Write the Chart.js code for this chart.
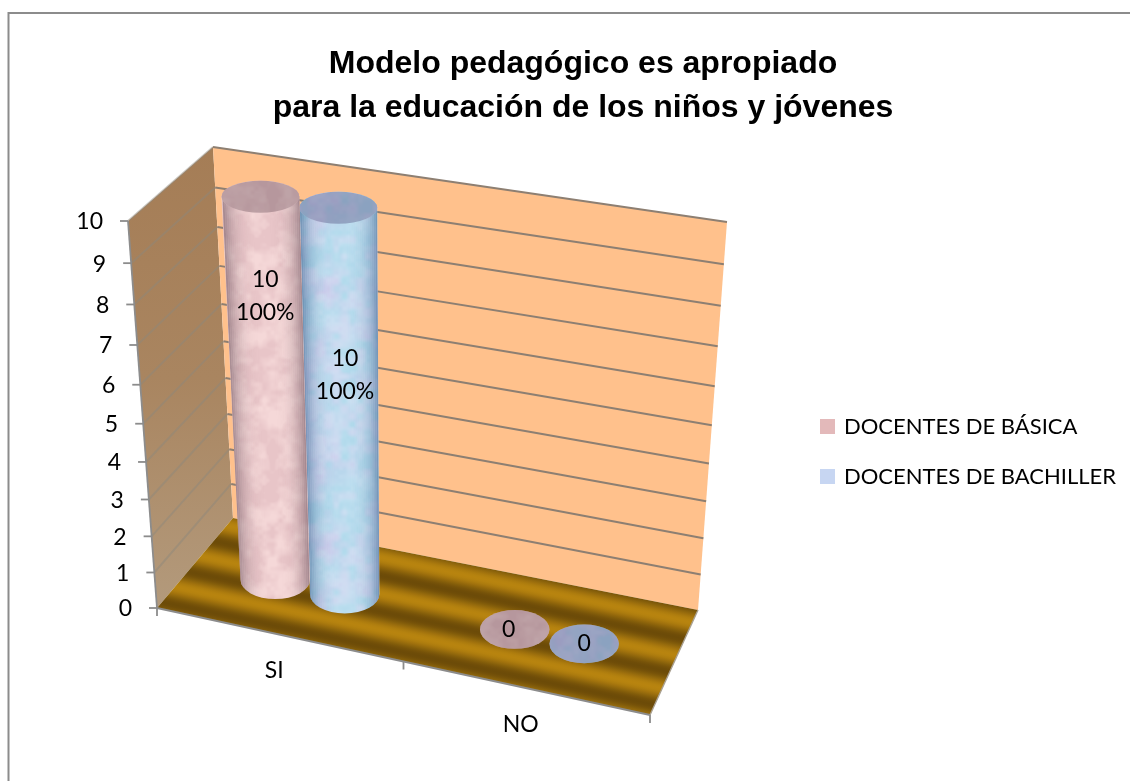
<!DOCTYPE html>
<html><head><meta charset="utf-8">
<style>html,body{margin:0;padding:0;background:#fff}canvas{display:block}</style>
<script src="https://cdn.jsdelivr.net/npm/chart.js@4"></script>
</head><body><canvas id="c" width="1130" height="781"></canvas>
<script>
// ---- data ----
const categories = ['SI', 'NO'];
const seriesNames = ['DOCENTES DE BÁSICA', 'DOCENTES DE BACHILLER'];
const basicaValues = [10, 0];
const bachillerValues = [10, 0];
const basicaLabels = [['10', '100%'], ['0']];
const bachillerLabels = [['10', '100%'], ['0']];
const titleLines = ['Modelo pedagógico es apropiado', 'para la educación de los niños y jóvenes'];

// ---- 3D box geometry (style only) ----
const BOX = {
  fBL:[157,608], fBR:[650,715], fTL:[128,221], fTR:[688,298],
  bBL:[233,518], bBR:[698,610], bTL:[213,147], bTR:[727,222]
};
const lerp=(a,b,t)=>a+(b-a)*t;
const lerp2=(p,q,t)=>[lerp(p[0],q[0],t),lerp(p[1],q[1],t)];
function proj(u,t,w){
  const f=lerp2(lerp2(BOX.fBL,BOX.fBR,u),lerp2(BOX.fTL,BOX.fTR,u),t);
  const b=lerp2(lerp2(BOX.bBL,BOX.bBR,u),lerp2(BOX.bTL,BOX.bTR,u),t);
  return lerp2(f,b,w);
}
const warp=d=>d/(d+1.1*(1-d));
const FONT='Lato, Carlito, sans-serif';
const TEXT=23;

class PerspectiveY extends Chart.LinearScale{
  getPixelForValue(v){
    if(v===null||v===undefined) return NaN;
    return this.getPixelForDecimal(warp((v-this.min)/(this.max-this.min)));
  }
  _computeLabelItems(area){
    const items=super._computeLabelItems(area);
    items.forEach((it,i)=>{
      const t=(this.bottom-this.getPixelForTick(i))/(this.bottom-this.top);
      const p=proj(0,t,0);
      it.options.translation=[p[0]-25,p[1]+1];
    });
    return items;
  }
}
PerspectiveY.id='perspectiveY';
PerspectiveY.defaults=Chart.LinearScale.defaults;

class PerspectiveX extends Chart.CategoryScale{
  _computeLabelItems(area){
    const items=super._computeLabelItems(area);
    items.forEach((it,i)=>{
      const u=(this.getPixelForTick(i)-this.left)/(this.right-this.left);
      const p=proj(u,0,0);
      it.options.translation=[p[0]-6,p[1]+36];
      it.options.textAlign='center';
      it.options.textBaseline='middle';
      it.textOffset=0;
    });
    return items;
  }
}
PerspectiveX.id='perspectiveX';
PerspectiveX.defaults=Chart.CategoryScale.defaults;
Chart.register(PerspectiveY,PerspectiveX);

// ---- mottled textures ----
function fract(x){return x-Math.floor(x)}
function vnoise(x,y,cell,S){
  const n=Math.round(S/cell),gx=x/cell,gy=y/cell,ix=Math.floor(gx),iy=Math.floor(gy);
  const h=(a,b)=>fract(Math.sin(((a+n)%n)*12.9898+((b+n)%n)*78.233+cell)*43758.5453);
  let fx=gx-ix,fy=gy-iy;fx=fx*fx*(3-2*fx);fy=fy*fy*(3-2*fy);
  return lerp(lerp(h(ix,iy),h(ix+1,iy),fx),lerp(h(ix,iy+1),h(ix+1,iy+1),fx),fy);
}
function texture(fn){
  const S=256,cv=document.createElement('canvas');cv.width=cv.height=S;
  const x=cv.getContext('2d'),im=x.createImageData(S,S);
  for(let j=0;j<S;j++)for(let i=0;i<S;i++){
    const a=vnoise(i,j,16,S)*.45+vnoise(i,j,8,S)*.35+vnoise(i,j,4,S)*.2;
    const b=vnoise(i,j,32,S)*.5+vnoise(i,j,8,S)*.5;
    const c=fn(a,b),k=(j*S+i)*4;
    im.data[k]=c[0];im.data[k+1]=c[1];im.data[k+2]=c[2];im.data[k+3]=255;
  }
  x.putImageData(im,0,0);return cv;
}
const clamp01=v=>Math.max(0,Math.min(1,v));
const pinkTex=texture((a,b)=>{const s=clamp01((a-.3)/.4);return [lerp(232,245,s),lerp(197,216,s),lerp(200,216,s)]});
const blueTex=texture((a,b)=>{const s=clamp01((a-.3)/.4),r=clamp01((b-.3)/.4);
  return [lerp(lerp(178,205,r),210,s*.6),lerp(lerp(218,205,r),230,s*.6),lerp(lerp(236,236,r),245,s*.6)]});
const STYLE=[
  {tex:pinkTex,edge:'120,95,105',cap:'rgba(95,70,80,.36)'},
  {tex:blueTex,edge:'70,105,150',cap:'rgba(85,85,130,.42)'}
];
const LABEL_T=[.74,.567];
const LABEL_DX=[[1,-6],[4,0]];
const labelsBySeries=[basicaLabels,bachillerLabels];

function toUT(chart,px,py){
  const a=chart.scales.x,b=chart.scales.y;
  return [(px-a.left)/(a.right-a.left)-.01,(b.bottom-py)/(b.bottom-b.top)];
}
function poly(ctx,pts){ctx.beginPath();pts.forEach((p,i)=>i?ctx.lineTo(p[0],p[1]):ctx.moveTo(p[0],p[1]));ctx.closePath();}
function line(ctx,a,b,col,w){ctx.strokeStyle=col;ctx.lineWidth=w;ctx.beginPath();ctx.moveTo(a[0],a[1]);ctx.lineTo(b[0],b[1]);ctx.stroke();}

const box3d={
  id:'box3d',
  afterLayout(chart){
    const l=chart.legend;
    l.top+=61;l.bottom+=61;
    l.left=821-27;l.right=1130;
    const t=chart.titleBlock;t.left+=18;t.right+=18;
  },
  beforeDraw(chart){
    const c=chart.ctx;
    line(c,[8,13],[1130,13],'#8c8c8c',2);
    line(c,[8.5,12],[8.5,781],'#8c8c8c',2);
  },
  beforeDatasetsDraw(chart){
    const c=chart.ctx,y=chart.scales.y;c.save();
    // left wall
    const tl=proj(0,1,0),bl=proj(0,0,0),tb=proj(0,1,1),bb=proj(0,0,1);
    poly(c,[tl,tb,bb,bl]);
    const g=c.createLinearGradient(0,147,0,608);g.addColorStop(0,'#a57d56');g.addColorStop(.5,'#a98560');g.addColorStop(1,'#b39a7c');
    c.fillStyle=g;c.fill();
    // back wall
    poly(c,[proj(0,1,1),proj(1,1,1),proj(1,0,1),proj(0,0,1)]);
    c.fillStyle='#ffc18c';c.fill();
    // floor stripes, running parallel to the front edge
    const fl=proj(0,0,0),fr=proj(1,0,0),slope=.208;
    const len=Math.hypot(1,slope),nx=slope/len,ny=-1/len;
    const P=36*(1/len),L=P*4;
    const fg=c.createLinearGradient(lerp(fl[0],fr[0],.5),lerp(fl[1],fr[1],.5),lerp(fl[0],fr[0],.5)+nx*L,lerp(fl[1],fr[1],.5)+ny*L);
    const S=64;
    for(let i=0;i<=S;i++){
      const s=.5+.5*Math.cos(2*Math.PI*(i/S*4-.75));
      const col=[lerp(108,184,s),lerp(75,132,s),lerp(8,15,s)].map(Math.round);
      fg.addColorStop(i/S,`rgb(${col})`);
    }
    poly(c,[proj(0,0,0),proj(1,0,0),proj(1,0,1),proj(0,0,1)]);
    c.fillStyle=fg;c.fill();
    // gridlines
    y.ticks.forEach((tk,i)=>{
      const t=(y.bottom-y.getPixelForTick(i))/(y.bottom-y.top);
      if(t>0){
        line(c,proj(0,t,0),proj(0,t,1),'rgba(140,135,125,.45)',2);
        line(c,proj(0,t,1),proj(1,t,1),'#8d7f72',2);
      }
      const p=proj(0,t,0);
      line(c,[p[0]-8,p[1]],p,'#8c8c8c',1.8);
    });
    // edges
    line(c,bl,tl,'#8c8c8c',1.8);
    line(c,proj(0,0,0),proj(1,0,0),'#8c8c8c',1.8);
    line(c,proj(1,0,0),proj(1,0,1),'#a9a090',1.4);
    [0,.5,1].forEach(u=>{const p=proj(u,0,0);line(c,p,[p[0],p[1]+8],'#8c8c8c',1.8);});
    c.restore();
  },
  beforeDatasetDraw(chart,args){
    const c=chart.ctx,st=STYLE[args.index];
    c.save();
    args.meta.data.forEach(el=>{
      const [u,tTop]=toUT(chart,el.x,el.y);
      const hw=el.width/(chart.scales.x.right-chart.scales.x.left)/2;
      const span=t=>proj(1,t,.5)[0]-proj(0,t,.5)[0];
      const ratio=t=>lerp(.56,.41,t);
      const bot=proj(u,0,.5),top=proj(u,tTop,.5);
      const rb=hw*span(0),rt=hw*span(tTop);
      const pat=c.createPattern(st.tex,'repeat');
      if(tTop<=0){
        c.beginPath();c.ellipse(bot[0],bot[1],rb,rb*ratio(0),0,0,Math.PI*2);
        c.fillStyle=pat;c.fill();c.fillStyle=st.cap;c.fill();
        return;
      }
      const ryB=rb*ratio(0),ryT=rt*ratio(tTop);
      c.save();
      c.beginPath();
      c.moveTo(top[0]-rt,top[1]);
      c.lineTo(bot[0]-rb,bot[1]);
      c.ellipse(bot[0],bot[1],rb,ryB,0,Math.PI,0,true);
      c.lineTo(top[0]+rt,top[1]);
      c.ellipse(top[0],top[1],rt,ryT,0,0,Math.PI,true);
      c.closePath();
      c.fillStyle=pat;c.fill();
      c.clip();
      // curvature shading in strips that follow the slanted silhouette
      const N=40,edge=s=>{const q=Math.min(s,1-s)*2;return .65*Math.pow(1-q,3.5);};
      for(let i=0;i<N;i++){
        const s0=i/N,s1=(i+1)/N,a=edge((s0+s1)/2);
        c.fillStyle=`rgba(${st.edge},${a.toFixed(3)})`;
        c.beginPath();
        c.moveTo(top[0]-rt+2*rt*s0,top[1]-ryT-2);
        c.lineTo(bot[0]-rb+2*rb*s0,bot[1]+ryB+2);
        c.lineTo(bot[0]-rb+2*rb*s1,bot[1]+ryB+2);
        c.lineTo(top[0]-rt+2*rt*s1,top[1]-ryT-2);
        c.closePath();c.fill();
      }
      c.restore();
      c.beginPath();c.ellipse(top[0],top[1],rt,ryT,0,0,Math.PI*2);
      c.fillStyle=pat;c.fill();c.fillStyle=st.cap;c.fill();
    });
    c.restore();
    return false;
  },
  afterDatasetsDraw(chart){
    const c=chart.ctx;c.save();
    c.font=`${TEXT}px ${FONT}`;c.fillStyle='#000';c.textAlign='center';c.textBaseline='middle';
    chart.data.datasets.forEach((ds,di)=>{
      chart.getDatasetMeta(di).data.forEach((el,i)=>{
        const [u,tTop]=toUT(chart,el.x,el.y);
        const p=proj(u,tTop*LABEL_T[di],.5);
        const ls=labelsBySeries[di][i],h=33;
        ls.forEach((s,k)=>c.fillText(s,p[0]+LABEL_DX[di][i],p[1]+(k-(ls.length-1)/2)*h));
      });
    });
    c.restore();
  }
};

const lh=44;
new Chart(document.getElementById('c'),{
  type:'bar',
  data:{labels:categories,datasets:[
    {label:seriesNames[0],data:basicaValues,backgroundColor:'#e3b9ba',borderColor:'#e3b9ba',borderWidth:4},
    {label:seriesNames[1],data:bachillerValues,backgroundColor:'#c7d6f2',borderColor:'#c7d6f2',borderWidth:4}
  ]},
  plugins:[box3d],
  options:{
    responsive:false,animation:false,
    layout:{padding:0},
    datasets:{bar:{categoryPercentage:.58,barPercentage:1}},
    scales:{
      x:{type:'perspectiveX',offset:true,grid:{display:false},border:{display:false},
         ticks:{color:'#000',font:{family:FONT,size:TEXT},autoSkip:false,maxRotation:0,minRotation:0},
         afterFit(s){s.height=781-608;}},
      y:{type:'perspectiveY',min:0,max:10,grid:{display:false},border:{display:false},
         ticks:{color:'#000',font:{family:FONT,size:TEXT},stepSize:1,autoSkip:false},
         afterFit(s){s.width=157;}}
    },
    plugins:{
      title:{display:true,text:titleLines,color:'#000',
        font:{family:'"Liberation Sans", Arial, sans-serif',size:32,weight:'bold',lineHeight:lh/32},
        padding:{top:42,bottom:221-42-2*lh}},
      legend:{display:true,position:'right',align:'center',
        labels:{color:'#000',font:{family:FONT,size:22},boxWidth:11,boxHeight:11,padding:28}},
      tooltip:{enabled:false}
    }
  }
});
</script></body></html>
